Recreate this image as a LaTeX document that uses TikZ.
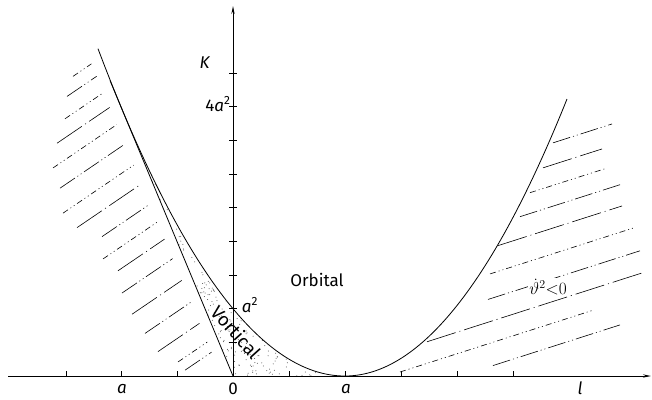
\documentclass[tikz,border=0pt]{standalone}
\usepackage{fontspec}
\setmainfont{Fira Sans}
\usetikzlibrary{arrows.meta}
\begin{document}
\begin{tikzpicture}[x=1pt,y=-1pt,
  axisline/.style={line width=0.9pt},
  curveline/.style={line width=0.8pt},
  tickline/.style={line width=0.7pt},
  hatchA/.style={line width=0.6pt, dash pattern=on 18pt off 3pt on 1pt off 3pt on 1pt off 3pt},
  hatchB/.style={line width=0.6pt, dash pattern=on 6pt off 3pt on 1pt off 3pt on 1pt off 3pt},
  hatchC/.style={line width=0.6pt, dash pattern=on 30pt off 4pt on 1pt off 4pt},
  lab/.style={font=\fontsize{17}{17}\selectfont, inner sep=0pt},
  tip/.style={-{Stealth[length=8pt,width=3.2pt]}}]
\useasboundingbox (0,0) rectangle (652,399);
% stippled region
\begin{scope}
  \clip (233,376) -- (121,106.8)
    -- plot[domain=121:345, samples=80] (\x, {376-67.3*((\x-345)/112)^2}) -- cycle;
  \pgfmathsetseed{7}
  \foreach \i in {1,...,1700}{
    \pgfmathsetmacro\xx{121+rnd*224}
    \pgfmathsetmacro\yy{106+rnd*270}
    \fill[black!70] (\xx,\yy) circle (0.5pt);
  }
\end{scope}
% axes
\coordinate (O) at (233,376);
\coordinate (xs) at (8,376);
\coordinate (xe) at (651,376);
\coordinate (ye) at (233,6);
\draw[axisline,tip] (xs) -- (xe);
\draw[axisline,tip] (O) -- (ye);
\foreach \t in {66,121,177,289,345,401,457,513}
  \draw[tickline] (\t,376) -- (\t,371);
\foreach \k in {1,...,9}
  \draw[tickline] (229,{376-33.65*\k}) -- (237,{376-33.65*\k});
% curves
\draw[curveline] plot[domain=98:345, samples=100] (\x, {376-67.3*((\x-345)/112)^2});
\draw[curveline] plot[domain=345:567, samples=100] (\x, {376-70.5*((\x-345)/112)^2});
\coordinate (T) at (110,80.5);
\draw[curveline] (O) -- (T);
% left hatching
\foreach \c/\xl/\s in {126/73/hatchB, 142/67/hatchA, 163/65/hatchB, 182/57/hatchC, 204/53/hatchB,
  229/60/hatchA, 256/63/hatchB, 280/77/hatchC, 306/102/hatchA, 329/103/hatchB, 351/118/hatchC,
  376/122/hatchA, 404/132/hatchC, 432/145/hatchA, 459/158/hatchC, 483/178/hatchB, 496/185/hatchA}{
  \pgfmathsetmacro\xr{(183.7+\c)/3.082-9}
  \draw[\s] (\xl,{\c-0.68*\xl}) -- (\xr,{\c-0.68*\xr});
}
% right hatching
\foreach \c/\xl/\xr/\s in {319.8/553/612/hatchA, 341.6/543/602/hatchC, 362.3/530/605/hatchB,
  383.1/520/620/hatchA, 405/498/622/hatchC, 430.7/490/633/hatchB, 455.6/488/640/hatchA,
  478.4/427/645/hatchC, 500/400/593/hatchB, 523.3/493/620/hatchA}{
  \draw[\s] (\xl,{\c-0.32*\xl}) -- (\xr,{\c-0.32*\xr});
}
% labels
\node[lab] (K) at (205,63) {\textit{K}};
\node[lab] (a4) at (218,104) {4\textit{a}\textsuperscript{2}};
\node[lab] (a1) at (250,305) {\textit{a}\textsuperscript{2}};
\node[lab] (zero) at (233,389) {0};
\node[lab] (am) at (122,389) {\textit{a}};
\node[lab] (ap) at (346,389) {\textit{a}};
\node[lab] (l) at (580,388) {\textit{l}};
\node[lab] (orb) at (317,280) {Orbital};
\node[lab, rotate=-48, font=\fontsize{18.5}{18.5}\selectfont] (vor) at (236,332) {Vortical};
\node[lab, fill=white, inner sep=1pt, font=\fontsize{17}{17}\selectfont] (th) at (548,287) {$\dot{\vartheta}^2{<}0$};
\end{tikzpicture}
\end{document}
